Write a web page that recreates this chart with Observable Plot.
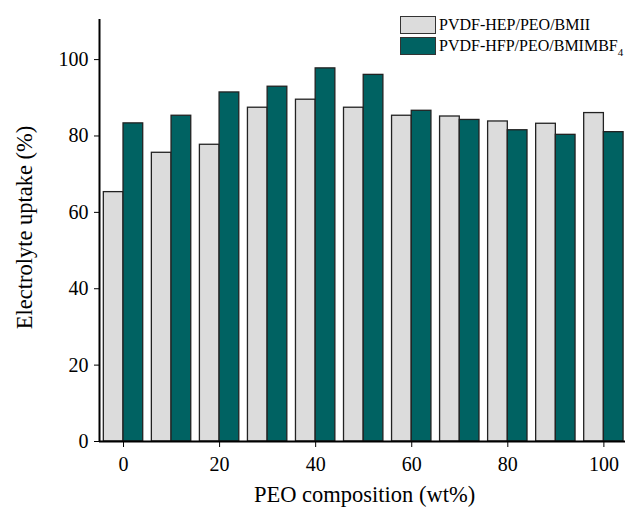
<!DOCTYPE html>
<html><head><meta charset="utf-8">
<script src="https://cdn.jsdelivr.net/npm/d3@7"></script>
<script src="https://cdn.jsdelivr.net/npm/@observablehq/plot@0.6"></script>
<style>
body{margin:0;background:#fff;}
#wrap{position:relative;width:625px;height:514px;font-family:"Liberation Serif","Times New Roman",serif;}
#legend{position:absolute;left:400px;top:15px;font-size:16px;color:#000;}
.row{display:flex;align-items:center;height:20.5px;}
.sw{width:36px;height:18px;border:1px solid #333;box-sizing:border-box;margin-right:3px;}
</style>
</head><body>
<div id="wrap"><div id="legend"></div></div>
<script>
const composition = [0,10,20,30,40,50,60,70,80,90,100];
const seriesNames = ["PVDF-HEP/PEO/BMII","PVDF-HFP/PEO/BMIMBF"];
const bmii = [65.3,75.6,77.7,87.4,89.5,87.4,85.3,85.1,83.8,83.2,86.0];
const bmimbf4 = [83.3,85.3,91.4,92.9,97.7,96.0,86.6,84.2,81.5,80.3,81.0];
const yTicks = [0,20,40,60,80,100];
const xTicks = [0,20,40,60,80,100];
const colors = ["#dcdcdc","#006262"];

const rows = [];
composition.forEach((c,i)=>{
  rows.push({c, s:seriesNames[0], v:bmii[i], off:-1});
  rows.push({c, s:seriesNames[1], v:bmimbf4[i], off:0});
});
const barW = 4.1;
const serif = "'Liberation Serif','Times New Roman',serif";

const plot = Plot.plot({
  width:625, height:514,
  marginLeft:99, marginRight:0, marginTop:19, marginBottom:73,
  style:{fontFamily:serif, fontSize:"20px", color:"#000", background:"#fff"},
  x:{domain:[-5,104.5], ticks:xTicks, label:null},
  y:{domain:[0,110.5], ticks:yTicks, label:null},
  color:{domain:seriesNames, range:colors},
  marks:[
    Plot.rectY(rows,{x1:d=>d.c+d.off*barW, x2:d=>d.c+(d.off+1)*barW, y:"v", fill:"s", stroke:"#222", strokeWidth:1.3}),
    Plot.axisX({ticks:xTicks, tickSize:6, tickPadding:9, fontSize:20, fontFamily:serif, label:null}),
    Plot.axisY({ticks:yTicks, tickSize:5, tickPadding:6, fontSize:20, fontFamily:serif, label:null}),
    Plot.ruleY([0],{stroke:"#000", strokeWidth:2}),
    Plot.ruleX([-5],{stroke:"#000", strokeWidth:2}),
    Plot.text(["PEO composition (wt%)"],{frameAnchor:"bottom", textAnchor:"middle", dx:2, dy:60, fontSize:22.5, fontFamily:serif, text:d=>d}),
    Plot.text(["Electrolyte uptake (%)"],{frameAnchor:"left", textAnchor:"middle", dx:-75, dy:-3, rotate:-90, fontSize:22.5, fontFamily:serif, text:d=>d})
  ]
});
document.getElementById("wrap").prepend(plot);

const leg = document.getElementById("legend");
seriesNames.forEach((n,i)=>{
  const r = document.createElement("div"); r.className="row";
  const sw = document.createElement("div"); sw.className="sw"; sw.style.background=colors[i];
  const t = document.createElement("span"); t.textContent=n;
  r.appendChild(sw); r.appendChild(t);
  if(i===1){const sub=document.createElement("sub"); sub.textContent="4"; sub.style.fontSize="11px"; sub.style.position="relative"; sub.style.top="6px"; sub.style.verticalAlign="baseline"; r.appendChild(sub);}
  leg.appendChild(r);
});
</script>
</body></html>
